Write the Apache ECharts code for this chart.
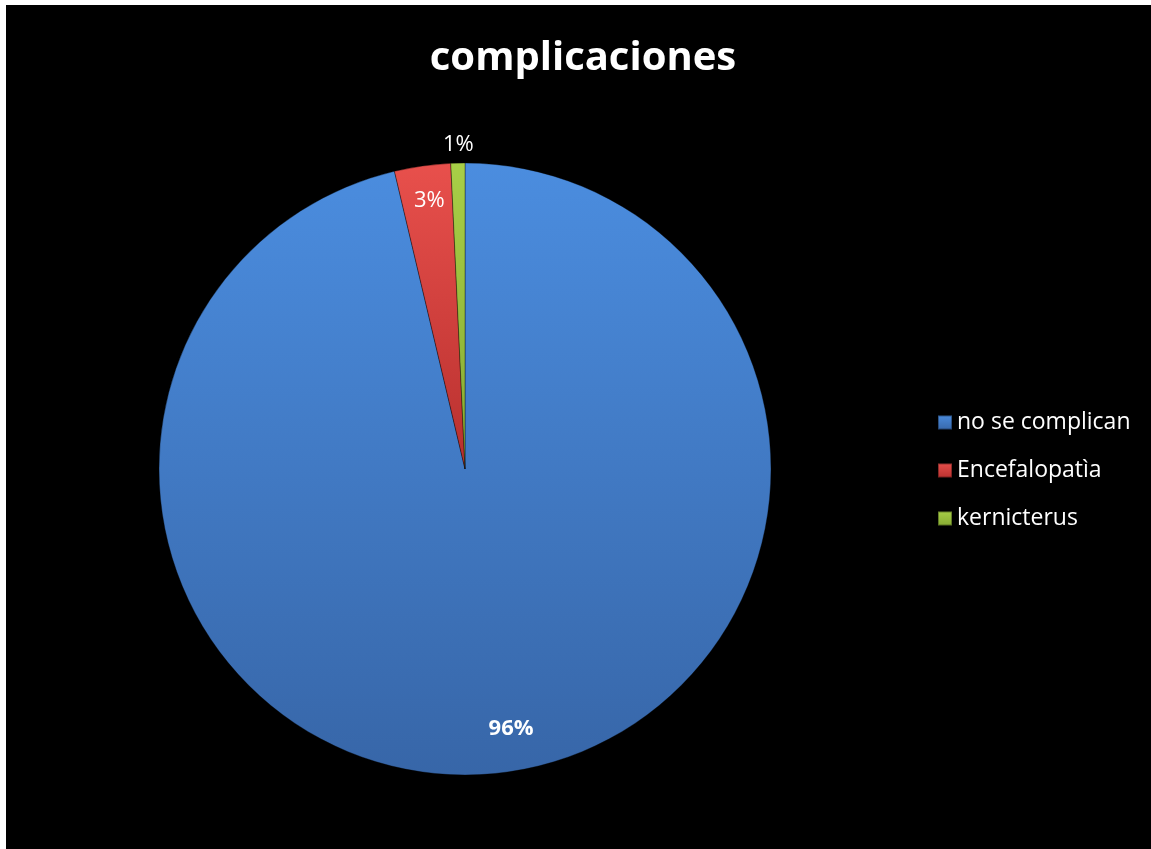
<!DOCTYPE html>
<html>
<head>
<meta charset="utf-8">
<script src="https://cdn.jsdelivr.net/npm/echarts@6/dist/echarts.min.js"></script>
<style>
  html, body { margin: 0; padding: 0; background: #ffffff; }
  #chart { position: absolute; left: 6px; top: 5px; width: 1145px; height: 844px; }
</style>
</head>
<body>
<div id="chart"></div>
<script>
// Complications breakdown (number of cases; labels show the share in percent)
const categories = ['no se complican', 'Encefalopatìa', 'kernicterus'];
const cases = [130, 4, 1];

const sliceColors = [
  ['#4b8ddf', '#3766a8'],
  ['#e8504c', '#b8302e'],
  ['#a8cf47', '#86aa32']
];
// nudges from the default inside position for each slice label
const labelOffsets = [[28, 105], [-14, -114], [-3, -168]];
const labelBold = [true, false, false];

const FONT = '"Open Sans", "Noto Sans", sans-serif';

function grad(c) {
  return new echarts.graphic.LinearGradient(0, 0, 0, 1, [
    { offset: 0, color: c[0] },
    { offset: 1, color: c[1] }
  ]);
}

const chart = echarts.init(document.getElementById('chart'));
chart.setOption({
  backgroundColor: '#000000',
  animation: false,
  title: {
    text: 'complicaciones',
    left: 572,
    top: 29,
    textAlign: 'center',
    textStyle: { color: '#ffffff', fontFamily: FONT, fontWeight: 'bold', fontSize: 40 }
  },
  legend: {
    orient: 'vertical',
    left: 926,
    top: 401,
    itemWidth: 14,
    itemHeight: 14,
    itemGap: 25,
    icon: 'rect',
    textStyle: { color: '#ffffff', fontFamily: FONT, fontSize: 23 },
    data: categories
  },
  series: [{
    type: 'pie',
    center: [459, 464],
    radius: 306,
    startAngle: 90,
    clockwise: true,
    silent: true,
    percentPrecision: 0,
    itemStyle: { borderColor: 'rgba(0,0,0,0.35)', borderWidth: 1 },
    labelLine: { show: false },
    data: categories.map((name, i) => ({
      name: name,
      value: cases[i],
      itemStyle: { color: grad(sliceColors[i]) },
      label: {
        show: true,
        position: 'inside',
        formatter: '{d}%',
        offset: labelOffsets[i],
        color: '#ffffff',
        fontFamily: FONT,
        fontSize: 22,
        fontWeight: labelBold[i] ? 'bold' : 'normal'
      }
    }))
  }]
});
</script>
</body>
</html>
